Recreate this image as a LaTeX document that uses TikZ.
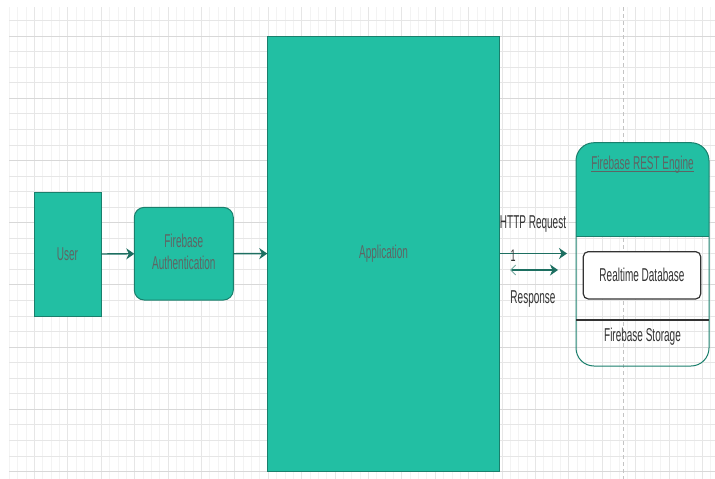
\documentclass[tikz,border=0pt]{standalone}
\usepackage{fontspec}
\setmainfont{Liberation Sans}
\usetikzlibrary{arrows.meta,positioning,calc}
\definecolor{tealfill}{HTML}{22BFA3}
\definecolor{tealedge}{HTML}{1A7F6C}
\definecolor{arrowteal}{HTML}{1D6F61}
\definecolor{labelgray}{HTML}{5E6564}
\definecolor{darktext}{HTML}{333333}
\definecolor{gridfaint}{HTML}{F3F3F3}
\definecolor{gridmid}{HTML}{E6E6E6}
\definecolor{gridmajor}{HTML}{D8D8D8}
\definecolor{pageline}{HTML}{C4C4C4}
% text is stretched upright like the screenshot
\newcommand{\tall}[1]{\scalebox{1}[1.86]{#1}}
\tikzset{
  tealbox/.style={draw=tealedge,fill=tealfill,line width=1pt,inner sep=0pt,outer sep=0pt,
    text=labelgray,font=\fontsize{10}{12}\selectfont},
  flow/.style={draw=arrowteal,line width=1.3pt,-{Stealth[length=8pt,width=11pt,inset=2.5pt]}},
  plain/.style={font=\fontsize{10}{12}\selectfont,text=darktext,inner sep=0pt}
}

\begin{document}
\begin{tikzpicture}[x=1pt,y=-1pt]
  \useasboundingbox (0,0) rectangle (715,479);
  \fill[white] (0,0) rectangle (715,479);

  % Background grid
  \foreach \i in {0,...,84}
    \draw[gridfaint,line width=0.6pt] ({9.25+8.35*\i},7) -- ({9.25+8.35*\i},479);
  \foreach \k in {0,...,29}
    \draw[gridmid,line width=0.7pt] (9.25,{20.45+15.55*\k}) -- (715,{20.45+15.55*\k});
  \foreach \j in {0,...,20}
    \draw[gridmid,line width=0.7pt] ({34.3+33.4*\j},7) -- ({34.3+33.4*\j},479);
  \foreach \m in {0,...,7}
    \draw[gridmajor,line width=0.9pt] (9.25,{36+62.2*\m}) -- (715,{36+62.2*\m});
  \draw[pageline,line width=1pt,dash pattern=on 4pt off 3pt] (623,7) -- (623,479);

  % Left: user and login
  \node[tealbox,minimum width=67pt,minimum height=124pt] (user) at (67.5,254) {\tall{User}};
  \node[tealbox,rounded corners=10pt,minimum width=99pt,minimum height=92.7pt,align=center]
    (auth) at (183.8,253.7) {\tall{\begin{tabular}{@{}c@{}}Firebase\\Authentication\end{tabular}}};

  % Center: application
  \node[tealbox,minimum width=232.6pt,minimum height=435pt] (app) at (383.6,253.5) {\tall{Application}};

  % Right: REST engine with its parts
  \fill[tealfill,rounded corners=18pt] (576,236) -- (576,142.7) -- (709,142.7) -- (709,236);
  \node[draw=tealedge,line width=1pt,rounded corners=18pt,inner sep=0pt,
    minimum width=133pt,minimum height=223.3pt] (engine) at (642.5,254.35) {};
  \draw[tealedge,line width=1pt] (576,236) -- (709,236);
  \draw[darktext,line width=1.2pt] (576,320) -- (709,320);
  \node[plain,text=labelgray] (enginetitle) at (642.5,165) {\tall{Firebase REST Engine}};
  \draw[labelgray,line width=0.8pt] ([yshift=-1.6pt]enginetitle.base west) -- ([yshift=-1.6pt]enginetitle.base east);
  \node[plain,draw=darktext,fill=white,line width=1.2pt,rounded corners=5pt,
    minimum width=117.4pt,minimum height=47.3pt] (realtime) at (642,275.3) {\tall{Realtime Database}};
  \node[plain] (storage) at (642.5,337) {\tall{Firebase Storage}};

  % Arrows
  \draw[flow] (user) -- (auth);
  \draw[flow] (auth) -- (app);
  \coordinate (reqend) at (567,253.5);
  \draw[flow] (app.east) -- (reqend);
  \coordinate (resstart) at (510,270);
  \coordinate (resend) at (558,270);
  \draw[flow,{Straight Barb[length=5pt,width=10pt,line width=0.9pt,color=arrowteal!60]}-{Stealth[length=8pt,width=11pt,inset=2.5pt]}]
    (resstart) -- (resend);
  \node[plain] (reqlabel) at (533,224) {\tall{HTTP Request}};
  \node[plain,font=\fontsize{9}{10}\selectfont] (reqnum) at (513,256) {\tall{1}};
  \node[plain] (reslabel) at (533,299) {\tall{Response}};
\end{tikzpicture}
\end{document}
